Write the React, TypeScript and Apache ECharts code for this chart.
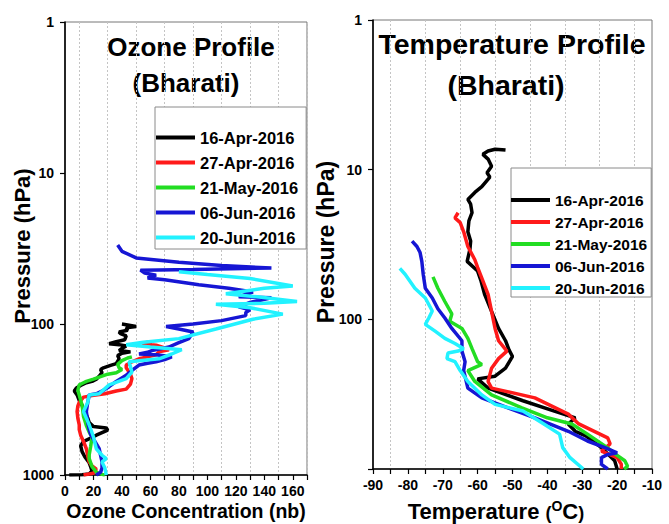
import React, { useEffect, useRef } from "react";
import * as echarts from "echarts";

const FONT = '"Liberation Sans", Arial, Helvetica, sans-serif';

const seriesNames = ["16-Apr-2016", "27-Apr-2016", "21-May-2016", "06-Jun-2016", "20-Jun-2016"];
const seriesColors = ["#000000", "#ff1a1a", "#22dd22", "#1616d4", "#22f2ff"];

// Ozone profiles: [ozone (nb), pressure (hPa)]
const ozoneApr16 = [
  [3, 1000], [12, 995], [17, 985], [19, 940], [18, 880], [17, 830], [14, 760], [12, 700], [11, 640],
  [13, 600], [18, 570], [22, 545], [30, 505], [29, 488], [20, 478], [17, 450], [16, 420], [15, 400],
  [13, 370], [12, 345], [10, 320], [8.5, 295], [6.5, 278], [8, 265], [11, 255], [15, 245], [19, 240],
  [22, 232], [24, 222], [26, 210], [25, 200], [27, 195], [32, 188], [36, 183], [38, 170], [37, 162],
  [40, 156], [46, 153], [38, 150], [40, 145], [43, 140], [38, 137], [31, 135], [36, 131], [42, 127],
  [43, 120], [39, 116], [38, 113], [44, 110], [43, 106], [50, 104], [43, 101], [40, 100],
];
const ozoneApr27 = [
  [13, 1000], [20, 975], [22, 915], [19, 870], [17, 820], [16, 750], [15, 670], [13, 600], [11, 545],
  [10, 500], [10, 465], [9, 420], [8.5, 380], [9, 350], [10, 330], [13, 305], [19, 298], [28, 290],
  [36, 278], [43, 270], [46, 250], [47, 230], [46, 215], [45, 208], [43, 195], [43, 187], [47, 178],
  [52, 170], [58, 165], [64, 160], [66, 153], [73, 148], [70, 144], [64, 138], [54, 135], [58, 132],
  [61, 131],
];
const ozoneMay21 = [
  [28, 1000], [26, 990], [22, 960], [19, 880], [17, 780], [17, 735], [18, 650], [19, 560], [17, 520],
  [15, 470], [13, 410], [12, 345], [10, 295], [9, 275], [10, 253], [13, 245], [15, 240], [20, 232],
  [24, 225], [30, 215], [36, 210], [40, 200], [38, 195], [37, 185], [40, 175], [44, 168], [47, 165],
];
const ozoneJun06 = [
  [22, 1000], [25, 960], [26, 900], [26, 820], [25, 740], [24, 670], [21, 600], [18, 540], [17, 500],
  [16, 450], [15, 380], [16, 330], [17, 295], [22, 290], [27, 275], [31, 260], [36, 240], [43, 218],
  [48, 200], [52, 187], [58, 182], [64, 178], [70, 172], [75, 165], [64, 160], [52, 158], [58, 154],
  [61, 150], [73, 142], [80, 133], [87, 125], [90, 113], [80, 108], [71, 104], [90, 100], [110, 95],
  [127, 88], [127, 84], [130, 80.6], [122, 77], [130, 72], [145, 67], [122, 66], [132, 61.4],
  [115, 58], [94, 55], [70, 51], [58, 49.6], [64, 47.5], [56, 46], [53, 44], [90, 43.5], [145, 42.6],
  [110, 41], [80, 39], [50, 36.5], [40, 33], [37, 30],
];
const ozoneJun20 = [
  [29, 1000], [28, 900], [26, 820], [29, 780], [26, 740], [22, 670], [20, 560], [17, 465], [15, 420],
  [13, 380], [16, 330], [17, 295], [24, 290], [31, 253], [43, 230], [47, 208], [45, 178], [66, 170],
  [75, 158], [82, 148], [60, 142], [43, 137], [55, 132], [80, 125], [106, 108], [132, 93], [153, 86],
  [130, 78], [106, 74], [140, 73], [163, 71], [135, 66], [113, 63], [140, 58], [160, 56], [130, 50],
  [100, 47], [80, 45],
];

// Temperature profiles: [temperature (°C), pressure (hPa)]
const tempApr16 = [
  [-52, 7.4], [-55, 7.3], [-57, 7.5], [-58.5, 7.9], [-57, 8.5], [-56, 9.5], [-57.3, 10.5], [-56.5, 11.2],
  [-58.8, 13], [-60.8, 14.2], [-62.8, 15.8], [-62, 17], [-61.6, 19.4], [-62.5, 22], [-62.8, 26],
  [-62, 30], [-62.2, 34], [-63, 41], [-60, 47.6], [-59, 55.6], [-58, 68], [-56, 88.6], [-54, 115],
  [-52, 139], [-51, 160], [-50, 177], [-52, 212], [-55, 240], [-60, 250], [-57, 288], [-47, 350],
  [-38, 410], [-32, 455], [-34, 500], [-32, 560], [-29, 600], [-24.5, 720], [-22.7, 790],
  [-20.7, 880], [-20, 1000],
];
const tempApr27 = [
  [-65.6, 19.4], [-66.5, 21], [-65, 22.6], [-64, 26], [-62.8, 32.6], [-60.8, 40], [-60, 45],
  [-58.8, 53], [-57, 68], [-56, 88.6], [-55, 115], [-54, 139], [-51.6, 163], [-54, 183], [-56, 212],
  [-57, 260], [-56, 288], [-43.6, 335], [-34, 430], [-31, 500], [-22.7, 620], [-22, 680],
  [-24.5, 760], [-20, 840], [-18.8, 930], [-18.8, 1000],
];
const tempMay21 = [
  [-72.8, 52], [-71.4, 62], [-69.4, 76], [-67.4, 92], [-68, 103], [-64.5, 115], [-62.8, 134],
  [-61.6, 157], [-60, 192], [-58.8, 200], [-62.8, 220], [-60.8, 260], [-56, 320], [-47.3, 390],
  [-40, 455], [-33, 500], [-28.5, 585], [-22.8, 720], [-20.7, 790], [-17.8, 880], [-17, 960],
  [-18, 1000],
];
const tempJun06 = [
  [-78.8, 30], [-77.4, 32.6], [-76.5, 35.8], [-76, 41], [-75.6, 50], [-75, 62], [-73, 72],
  [-71.4, 85], [-69.4, 98], [-67.4, 115], [-64.5, 139], [-64.5, 163], [-63.6, 192], [-64, 220],
  [-62.8, 288], [-58.8, 335], [-51.3, 390], [-43.6, 455], [-34, 560], [-28.5, 650], [-23.5, 720],
  [-20, 780], [-22.7, 800], [-24.5, 840], [-24.5, 930], [-22.7, 1000],
];
const tempJun20 = [
  [-82.3, 45.7], [-80.8, 50], [-78, 62], [-75, 72], [-73, 88], [-74, 98], [-75, 108], [-72.2, 120],
  [-69.4, 134], [-66.5, 145], [-64, 157], [-65.6, 163], [-68.5, 168], [-68.8, 183], [-66.5, 192],
  [-65, 220], [-62.8, 260], [-58.8, 320], [-55, 370], [-47, 410], [-41, 500], [-36.5, 585],
  [-35.6, 720], [-33.5, 840], [-29.7, 1000],
];

const ozoneSeries = [ozoneApr16, ozoneApr27, ozoneMay21, ozoneJun06, ozoneJun20];
const tempSeries = [tempApr16, tempApr27, tempMay21, tempJun06, tempJun20];

const ozoneRange = [0, 170];
const tempRange = [-90, -10];
const pressureRange = [1, 1000];

const bold = (size: number) => `bold ${size}px ${FONT}`;

function xAxisCfg(gridIndex: number, min: number, max: number, step: number, labelStep: number) {
  return {
    type: "value",
    gridIndex,
    min,
    max,
    interval: step,
    axisLine: { show: true, onZero: false, lineStyle: { color: "#000", width: 1.6 } },
    axisTick: { show: true, inside: false, length: 5, lineStyle: { color: "#000", width: 1.2 } },
    axisLabel: {
      color: "#000",
      fontFamily: FONT,
      fontWeight: "bold",
      fontSize: 14,
      margin: 9,
      formatter: (v: number) => (Math.abs(Math.round(v) % labelStep) === 0 ? String(Math.round(v)) : ""),
    },
    splitLine: {
      show: true,
      showMinLine: true,
      showMaxLine: true,
      lineStyle: { color: ["rgba(0,0,0,0)", "#c4c4c4"], type: [2, 2], width: 1 },
    },
  };
}

function yAxisCfg(gridIndex: number, hideBottom: boolean) {
  return {
    type: "log",
    logBase: 10,
    gridIndex,
    min: pressureRange[0],
    max: pressureRange[1],
    inverse: true,
    axisLine: { show: true, onZero: false, lineStyle: { color: "#000", width: 1.6 } },
    axisTick: { show: true, inside: false, length: 5, lineStyle: { color: "#000", width: 1.2 } },
    axisLabel: {
      color: "#000",
      fontFamily: FONT,
      fontWeight: "bold",
      fontSize: 14,
      margin: 11,
      formatter: (v: number) => {
        const r = Math.round(v);
        if (hideBottom && r === 1000) return "";
        return String(r);
      },
    },
    splitLine: { show: false },
  };
}

function legendCfg(left: number, top: number, padding: number[], gap: number, size: number) {
  return {
    data: seriesNames,
    orient: "vertical",
    left,
    top,
    padding,
    itemGap: gap,
    itemWidth: 39,
    itemHeight: 4,
    icon: "rect",
    backgroundColor: "#fff",
    borderColor: "#8a8a8a",
    borderWidth: 1,
    borderRadius: 0,
    selectedMode: false,
    textStyle: { color: "#000", fontFamily: FONT, fontWeight: "bold", fontSize: size, lineHeight: 16 },
  };
}

function textEl(text: string, x: number, y: number, size: number, rotation = 0) {
  return {
    type: "text",
    x,
    y,
    rotation,
    silent: true,
    style: {
      text,
      font: bold(size),
      fill: "#000",
      align: "center",
      verticalAlign: "middle",
      textAlign: "center",
      textVerticalAlign: "middle",
    },
  };
}

export default function App() {
  const ref = useRef<HTMLDivElement>(null);
  useEffect(() => {
    if (!ref.current) return;
    const chart = echarts.init(ref.current, undefined, { renderer: "svg" });
    const series: any[] = [];
    seriesNames.forEach((name, i) => {
      series.push({
        name,
        type: "line",
        xAxisIndex: 0,
        yAxisIndex: 0,
        data: ozoneSeries[i],
        symbol: "none",
        clip: true,
        lineStyle: { color: seriesColors[i], width: 3.5 },
        itemStyle: { color: seriesColors[i] },
        z: 3 + i,
      });
    });
    seriesNames.forEach((name, i) => {
      series.push({
        name,
        type: "line",
        xAxisIndex: 1,
        yAxisIndex: 1,
        data: tempSeries[i],
        symbol: "none",
        clip: true,
        lineStyle: { color: seriesColors[i], width: 3.5 },
        itemStyle: { color: seriesColors[i] },
        z: 3 + i,
      });
    });

    const option: any = {
      animation: false,
      backgroundColor: "#fff",
      grid: [
        { left: 65, top: 22, width: 242, height: 453, show: true, borderColor: "#777", borderWidth: 1, backgroundColor: "transparent" },
        { left: 373, top: 20, width: 279, height: 449, show: true, borderColor: "#777", borderWidth: 1, backgroundColor: "transparent" },
      ],
      xAxis: [
        xAxisCfg(0, ozoneRange[0], ozoneRange[1], 10, 20),
        xAxisCfg(1, tempRange[0], tempRange[1], 5, 10),
      ],
      yAxis: [yAxisCfg(0, false), yAxisCfg(1, true)],
      legend: [
        legendCfg(155, 107, [22, 8, 3, 1], 8, 16.5),
        legendCfg(511, 168, [24, 4, 1, 0], 6, 15.5),
      ],
      graphic: [
        textEl("Ozone Profile", 191, 47, 26),
        textEl("(Bharati)", 186, 83, 26),
        textEl("Temperature Profile", 512, 44, 28.5),
        textEl("(Bharati)", 506, 85, 28.5),
        textEl("Pressure (hPa)", 22, 246, 22, Math.PI / 2),
        textEl("Pressure (hPa)", 326, 242, 23, Math.PI / 2),
        textEl("Ozone Concentration (nb)", 186, 511, 19.5),
        {
          type: "text",
          x: 496,
          y: 510,
          silent: true,
          style: {
            text: "{n|Temperature }{p|(}{s|O}{n|C}{p|)}",
            fill: "#000",
            align: "center",
            verticalAlign: "middle",
            textAlign: "center",
            textVerticalAlign: "middle",
            rich: {
              n: { font: bold(22), fill: "#000", lineHeight: 24, verticalAlign: "bottom" },
              p: { font: bold(18), fill: "#000", lineHeight: 22, verticalAlign: "bottom" },
              s: { font: bold(14), fill: "#000", lineHeight: 24, verticalAlign: "bottom", padding: [0, 0, 9, 0] },
            },
          },
        },
      ],
      series,
    };
    chart.setOption(option);
    return () => chart.dispose();
  }, []);
  return (
    <div
      ref={ref}
      style={{ position: "fixed", left: 0, top: 0, width: 669, height: 524, background: "#fff" }}
    />
  );
}
